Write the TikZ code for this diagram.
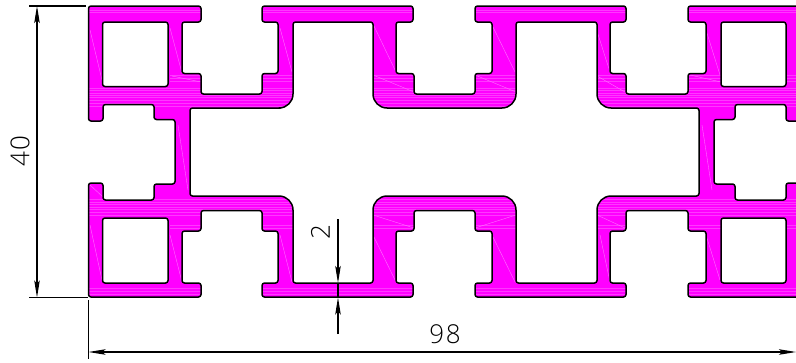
\documentclass[tikz,border=0pt]{standalone}
\usepackage{fontspec}
\setmainfont{Open Sans Light}[LetterSpace=6]
\usetikzlibrary{arrows.meta}
\definecolor{profilefill}{HTML}{FF00FF}
\definecolor{streak}{HTML}{FF38FF}
\definecolor{facetcol}{HTML}{FF70FF}
\tikzset{
  outlinepen/.style={draw=black,line width=1.5pt,line join=round},
  dimline/.style={draw=black,line width=1.1pt},
  extline/.style={draw=black,line width=1.1pt},
  dimtip/.style={-{Stealth[length=17pt,width=5.5pt,inset=3pt]}},
  dimboth/.style={{Stealth[length=17pt,width=5.5pt,inset=3pt]}-{Stealth[length=17pt,width=5.5pt,inset=3pt]}},
  dimtext/.style={inner sep=0pt,font=\fontsize{26}{26}\selectfont,text=black},
  streakline/.style={draw=streak,line width=.8pt},
  facet/.style={draw=facetcol,line width=.4pt}
}
\newcommand{\rc}{2.5pt}
\newcommand{\profilepath}{
  [rounded corners=\rc]
  (88.5,40) -- (88.5,6) -- (201,6) -- (201,22) -- (182,22) -- (182,73.5) -- (201,73.5) -- (201,94)
  -- (262,94) -- (262,73.5) -- (278,73.5) -- (278,22) -- (262,22) -- (262,6)
  -- (413,6) -- (413,22) -- (396,22) -- (396,73.5) -- (414,73.5) -- (414,94)
  -- (475,94) -- (475,73.5) -- (492,73.5) -- (492,22) -- (475,22) -- (475,6)
  -- (626,6) -- (626,22) -- (610,22) -- (610,73.5) -- (626,73.5) -- (626,94)
  -- (688,94) -- (688,73.5) -- (706,73.5) -- (706,22) -- (688,22) -- (688,6)
  -- (812,6) -- (812,121) -- (786,121) -- (786,104.5) -- (735,104.5) -- (735,119.5) -- (714,119.5)
  -- (714,184) -- (735,184) -- (735,200) -- (786,200) -- (786,183) -- (812,183)
  -- (812,297) -- (688,297) -- (688,283) -- (706,283) -- (706,231) -- (688,231) -- (688,210.5)
  -- (626,210.5) -- (626,231) -- (610,231) -- (610,283) -- (626,283) -- (626,297)
  -- (475,297) -- (475,283) -- (492,283) -- (492,231) -- (475,231) -- (475,210.5)
  -- (414,210.5) -- (414,231) -- (396,231) -- (396,283) -- (413,283) -- (413,297)
  -- (262,297) -- (262,283) -- (278,283) -- (278,231) -- (262,231) -- (262,210.5)
  -- (201,210.5) -- (201,231) -- (182,231) -- (182,283) -- (201,283) -- (201,297)
  -- (88.5,297) -- (88.5,183) -- (103,183) -- (103,200) -- (154,200) -- (154,184) -- (175,184)
  -- (175,119.5) -- (154,119.5) -- (154,104.5) -- (103,104.5) -- (103,121) -- (88.5,121) -- cycle
  (102.5,54) -- (102.5,22) -- (168,22) -- (168,86.5) -- (102.5,86.5) -- cycle
  (102.5,250) -- (102.5,218) -- (168,218) -- (168,283) -- (102.5,283) -- cycle
  (721,54) -- (721,22) -- (786,22) -- (786,86.5) -- (721,86.5) -- cycle
  (721,250) -- (721,218) -- (786,218) -- (786,283) -- (721,283) -- cycle
  (190,150) -- (190,108) -- (278,108)
  [rounded corners=14pt] -- (293,108) [rounded corners=\rc] -- (293,22) -- (373,22)
  [rounded corners=14pt] -- (373,108) -- (516,108) [rounded corners=\rc] -- (516,22) -- (597,22)
  [rounded corners=14pt] -- (597,108) [rounded corners=\rc] -- (699,108) -- (699,196)
  [rounded corners=14pt] -- (597,196) [rounded corners=\rc] -- (597,283) -- (516,283)
  [rounded corners=14pt] -- (516,196) -- (373,196) [rounded corners=\rc] -- (373,283) -- (293,283)
  [rounded corners=14pt] -- (293,196) [rounded corners=\rc] -- (190,196) -- cycle
}
\begin{document}
\begin{tikzpicture}[x=1pt,y=-1pt]
  \clip (0,0) rectangle (796,362);
  \fill[white] (0,0) rectangle (796,362);
  \fill[profilefill,even odd rule] \profilepath;
  % surface streaks of the extrusion
  \begin{scope}[even odd rule]
    \clip \profilepath;
    \foreach \yy in {10,12,90,93,95,97,100,103,106,88,199,202,204,207,209,212,215,288,291,294}
      \draw[streakline] (88,\yy) -- (800,\yy);
    \foreach \yy in {75,78,81,225,228}
      \draw[streakline] (170,\yy) -- (800,\yy);
    \foreach \a/\b/\c/\d in {
      170/28/182/73, 90/30/102/80, 280/28/292/72,
      373/24/396/72, 492/25/515/72, 596/28/610/72, 706/30/720/75,
      373/75/414/92, 516/92/475/75, 597/76/625/92, 690/75/721/82,
      172/76/201/82,
      373/215/414/228, 516/215/475/228, 373/235/396/282, 492/235/515/282,
      597/215/625/228, 600/235/610/282, 706/235/720/280, 170/235/182/282,
      280/235/292/282, 90/225/102/280, 90/185/103/197, 178/125/188/190, 702/125/712/190}
      \draw[facet] (\a,\b) -- (\c,\d);
  \end{scope}
  \path[outlinepen] \profilepath;
  \coordinate (extTopL) at (29,6);
  \coordinate (extTopR) at (86,6);
  \coordinate (extBotL) at (29,297.5);
  \coordinate (extBotR) at (88,297.5);
  \coordinate (dimLtop) at (37,6);
  \coordinate (dimLbot) at (37,297.5);
  \coordinate (extVT) at (88.5,300);
  \coordinate (extVB) at (88.5,359);
  \coordinate (dimBl) at (88.5,352);
  \coordinate (dimBr) at (796,352);
  \coordinate (tTop) at (338,219);
  \coordinate (tTip) at (338,283);
  \coordinate (tTip2) at (338,297.5);
  \coordinate (tEnd) at (338,334);
  \draw[extline] (extTopL) -- (extTopR);
  \draw[extline] (extBotL) -- (extBotR);
  \draw[extline] (extVT) -- (extVB);
  \draw[dimline,dimboth] (dimLtop) -- (dimLbot);
  \draw[dimline,dimboth] (dimBl) -- (dimBr);
  \draw[dimline] (tTip) -- (tTip2);
  \draw[dimline,dimtip] (tTop) -- (tTip);
  \draw[dimline,dimtip] (tEnd) -- (tTip2);
  \node[dimtext,rotate=90] (lab40) at (20,151) {40};
  \node[dimtext,rotate=90] (lab2) at (320.5,232) {2};
  \node[dimtext] (lab98) at (445,334.5) {98};
\end{tikzpicture}
\end{document}
